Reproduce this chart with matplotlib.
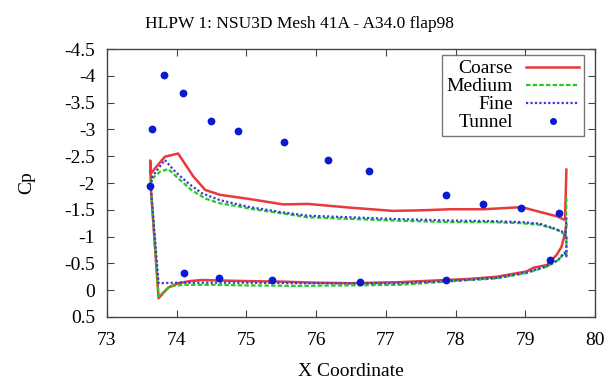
import matplotlib
matplotlib.use("Agg")
import matplotlib.pyplot as plt

# Surface pressure coefficient along the flap, three grid levels plus wind tunnel data.
# Each CFD series runs from the trailing edge along the lower surface to the
# leading edge, then back along the upper surface.
coarse_x = [79.59, 79.57, 79.52, 79.45, 79.31, 79.12, 79.02, 78.59, 78.20, 77.86,
            77.20, 76.50, 76.00, 75.50, 75.00, 74.64, 74.36, 74.19, 74.02, 73.88,
            73.74, 73.63, 73.62, 73.63, 73.83, 74.02, 74.24, 74.41, 74.62, 75.05,
            75.53, 75.88, 76.49, 77.10, 77.50, 77.92, 78.40, 78.95, 79.21, 79.45,
            79.57, 79.59]
coarse_cp = [-1.22, -1.06, -0.81, -0.66, -0.47, -0.42, -0.35, -0.25, -0.21, -0.19,
             -0.15, -0.13, -0.14, -0.16, -0.17, -0.18, -0.19, -0.17, -0.13, -0.05,
             0.15, -1.90, -2.42, -2.18, -2.49, -2.55, -2.12, -1.87, -1.78, -1.70,
             -1.60, -1.61, -1.54, -1.48, -1.49, -1.51, -1.51, -1.55, -1.46, -1.38,
             -1.31, -2.25]

medium_x = [79.59, 79.59, 79.57, 79.47, 79.31, 79.02, 78.59, 77.87, 77.20, 76.50,
            75.77, 75.00, 74.50, 74.09, 73.90, 73.74, 73.63, 73.63, 73.76, 73.88,
            74.02, 74.21, 74.41, 74.62, 74.91, 75.05, 75.58, 75.88, 76.49, 77.10,
            77.92, 78.50, 78.95, 79.21, 79.40, 79.52, 79.58, 79.59]
medium_cp = [-1.00, -0.63, -0.70, -0.56, -0.44, -0.32, -0.22, -0.16, -0.10, -0.09,
             -0.08, -0.09, -0.10, -0.10, -0.07, 0.12, -1.90, -2.06, -2.21, -2.26,
             -2.09, -1.87, -1.71, -1.62, -1.56, -1.52, -1.42, -1.36, -1.33, -1.30,
             -1.27, -1.27, -1.25, -1.22, -1.15, -1.09, -1.00, -1.72]

fine_x = [79.59, 79.59, 79.56, 79.47, 79.31, 79.02, 78.59, 77.87, 77.20, 76.50,
          75.77, 75.00, 74.50, 74.00, 73.74, 73.63, 73.65, 73.83, 73.98, 74.17,
          74.36, 74.62, 75.05, 75.53, 75.88, 76.49, 77.10, 77.92, 78.50, 78.95,
          79.21, 79.40, 79.52, 79.58, 79.59]
fine_cp = [-1.00, -0.63, -0.70, -0.56, -0.45, -0.33, -0.23, -0.17, -0.13, -0.13,
           -0.13, -0.14, -0.14, -0.14, -0.13, -1.90, -2.12, -2.43, -2.21, -1.99,
           -1.81, -1.68, -1.55, -1.45, -1.39, -1.36, -1.33, -1.30, -1.29, -1.27,
           -1.24, -1.16, -1.10, -1.02, -1.37]

tunnel_x = [73.62, 73.65, 73.82, 74.09, 74.49, 74.88, 75.54, 76.17, 76.76, 77.86,
            78.40, 78.94, 79.48, 74.10, 74.61, 75.37, 76.63, 77.86, 79.35]
tunnel_cp = [-1.94, -3.01, -4.01, -3.68, -3.16, -2.97, -2.76, -2.43, -2.23, -1.77,
             -1.61, -1.54, -1.44, -0.33, -0.23, -0.19, -0.15, -0.19, -0.56]

x_ticks = [73, 74, 75, 76, 77, 78, 79, 80]
y_ticks = [-4.5, -4, -3.5, -3, -2.5, -2, -1.5, -1, -0.5, 0, 0.5]

plt.rcParams["font.family"] = ["Liberation Serif", "DejaVu Serif"]

fig = plt.figure(figsize=(6.12, 3.79), dpi=100)
ax = fig.add_axes([0.1748, 0.1636, 0.7974, 0.7071])

ax.plot(coarse_x, coarse_cp, color="#e8393b", lw=1.8, label="Coarse")
ax.plot(medium_x, medium_cp, color="#22cc22", lw=1.6, ls=(0, (2.0, 1.0)), label="Medium")
ax.plot(fine_x, fine_cp, color="#3a3ad8", lw=1.6, ls=(0, (1.0, 1.0)), label="Fine")
ax.plot(tunnel_x, tunnel_cp, ls="none", marker="o", ms=4.6, color="#0a1ad0",
        label="Tunnel")

ax.set_xlim(73, 80)
ax.set_ylim(0.5, -4.5)
ax.set_xticks(x_ticks)
ax.set_xticklabels([f"{t:g}" for t in x_ticks])
ax.set_yticks(y_ticks)
ax.set_yticklabels([f"{t:g}" for t in y_ticks])

ax.tick_params(direction="in", top=True, right=True, length=5, width=0.8,
               labelsize=14, color="#444444")
ax.tick_params(axis="x", pad=11)
ax.tick_params(axis="y", pad=8.5)
for s in ax.spines.values():
    s.set_linewidth(1.0)
    s.set_color("#444444")

ax.set_xlabel("X Coordinate", fontsize=14, labelpad=10)
ax.set_ylabel("Cp", fontsize=14)
ax.yaxis.set_label_coords(-0.148, 0.5)
fig.text(0.49, 1 - 28 / 379, "HLPW 1: NSU3D Mesh 41A - A34.0 flap98",
         fontsize=12.5, ha="center", va="baseline")

leg = ax.legend(loc="upper right", bbox_to_anchor=(0.977, 0.978),
                markerfirst=False, fontsize=14, frameon=True,
                fancybox=False, edgecolor="#555555", handlelength=2.7,
                labelspacing=0.02, borderpad=0.25, handletextpad=0.7,
                borderaxespad=0.0, numpoints=1)
leg.get_frame().set_linewidth(1.0)
for h in leg.legend_handles:
    if h.get_marker() == "o":
        h.set_markersize(4.0)

fig.savefig("out.png", dpi=100)
